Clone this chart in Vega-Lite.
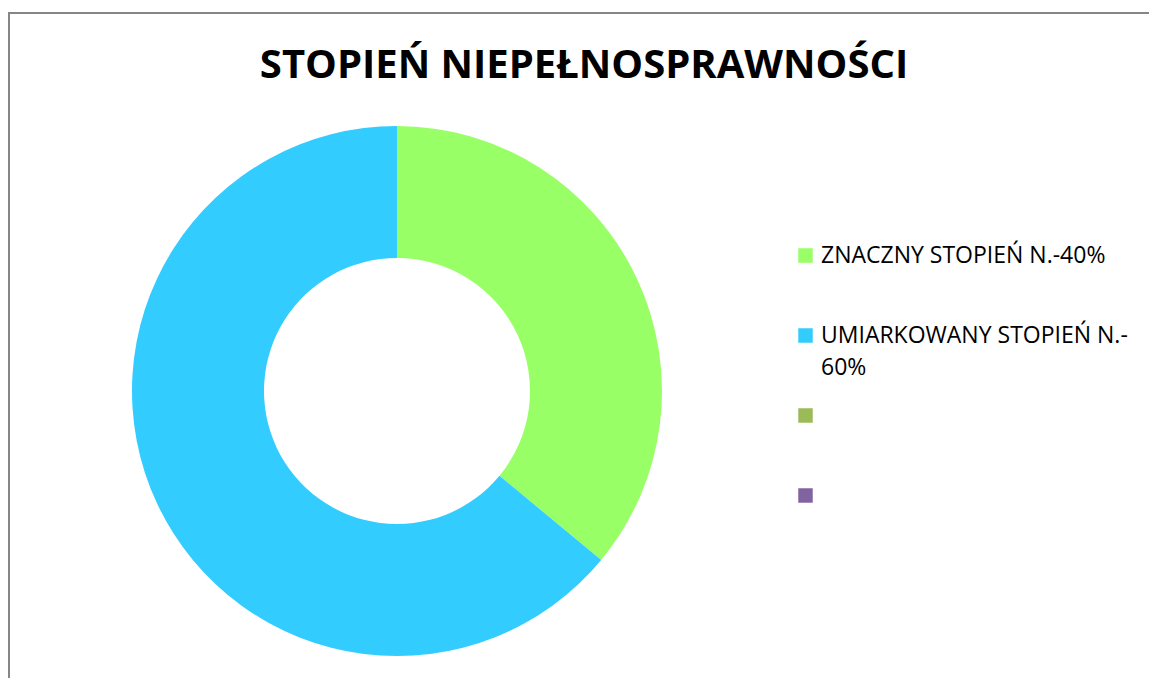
{
  "$schema": "https://vega.github.io/schema/vega-lite/v6.json",
  "autosize": "none",
  "width": 1150,
  "height": 700,
  "padding": {"left": 9, "top": 13, "right": 0, "bottom": 0},
  "background": "white",
  "view": {"stroke": "#868686", "strokeWidth": 2},
  "config": {
    "font": "Open Sans",
    "style": {"guide-label": {"lineHeight": 32}}
  },
  "title": {
    "text": "STOPIEŃ NIEPEŁNOSPRAWNOŚCI",
    "anchor": "middle",
    "frame": "group",
    "font": "Open Sans",
    "fontSize": 40,
    "fontWeight": "bold",
    "color": "#000000",
    "baseline": "alphabetic",
    "offset": -105
  },
  "data": {
    "values": [
      {"kategoria": "ZNACZNY STOPIEŃ N.-40%", "wartosc": 36, "ord": 1},
      {"kategoria": "UMIARKOWANY STOPIEŃ N.-60%", "wartosc": 64, "ord": 2}
    ]
  },
  "layer": [
    {
      "mark": {"type": "arc", "innerRadius": 133, "outerRadius": 265, "x": 388, "y": 378},
      "encoding": {
        "theta": {"field": "wartosc", "type": "quantitative", "stack": true},
        "order": {"field": "ord", "type": "quantitative"},
        "color": {
          "field": "kategoria",
          "type": "nominal",
          "scale": {
            "domain": ["ZNACZNY STOPIEŃ N.-40%", "UMIARKOWANY STOPIEŃ N.-60%", "k3", "k4"],
            "range": ["#99FF66", "#33CCFF", "#9BBB59", "#8064A2"]
          },
          "legend": {
            "title": null,
            "orient": "none",
            "legendX": 785,
            "legendY": 231,
            "symbolType": "square",
            "symbolSize": 210,
            "symbolStrokeWidth": 0,
            "labelFont": "Open Sans",
            "labelFontSize": 23,
            "labelColor": "#000000",
            "labelLimit": 400,
            "labelOffset": 4,
            "gridAlign": "all",
            "rowPadding": 24,
            "labelExpr": "datum.value === 'UMIARKOWANY STOPIEŃ N.-60%' ? ['UMIARKOWANY STOPIEŃ N.-', '60%'] : (datum.value === 'k3' || datum.value === 'k4' ? '' : datum.value)"
          }
        }
      }
    }
  ]
}
